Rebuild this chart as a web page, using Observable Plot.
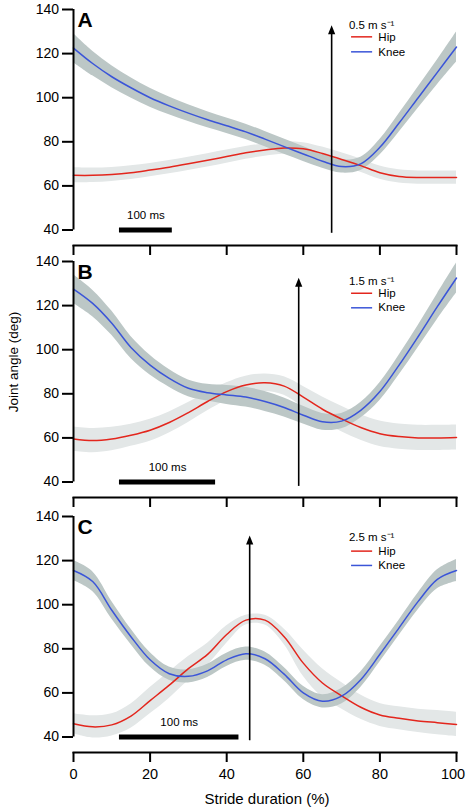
<!DOCTYPE html>
<html><head><meta charset="utf-8">
<script src="https://cdn.jsdelivr.net/npm/d3@7"></script>
<script src="https://cdn.jsdelivr.net/npm/@observablehq/plot@0.6"></script>
<style>
body{margin:0;background:#fff;}
#fig{position:relative;width:466px;height:812px;font-family:"Liberation Sans",Arial,Helvetica,sans-serif;color:#000;overflow:hidden;}
.panel{position:absolute;left:0;}
.ylab{position:absolute;left:13px;top:362px;transform:translate(-50%,-50%) rotate(-90deg);font-size:13.5px;white-space:nowrap;}
.xlab{position:absolute;left:267px;top:798px;transform:translate(-50%,-50%);font-size:15px;white-space:nowrap;}
</style></head><body><div id="fig"></div>
<script>
// stride duration (%) grid
const stride = [0,5,10,15,20,25,30,35,40,45,50,55,60,65,70,75,80,85,90,95,100];
const xTicks = [0,20,40,60,80,100];
const yTicks = [40,60,80,100,120,140];
const panelLabels = ["A","B","C"];
const speeds = ["0.5 m s\u207B\u00B9","1.5 m s\u207B\u00B9","2.5 m s\u207B\u00B9"];
const seriesNames = ["Hip","Knee"];

// Panel A, 0.5 m/s
const hipA    = [64.8,64.8,65.2,66.0,67.2,68.5,70.0,71.6,73.3,75.0,76.3,77.2,76.8,74.7,72.0,69.2,66.0,64.3,63.8,63.8,63.8];
const hipSdA  = [3.4,3.3,3.2,3.1,3.0,3.0,3.0,3.0,3.0,2.9,2.8,2.8,2.8,2.9,3.0,3.0,3.0,3.0,3.0,3.0,3.0];
const kneeA   = [122.5,115.5,109.5,104.5,100.0,96.3,93.0,90.0,87.3,84.5,81.2,77.8,74.5,71.2,68.8,70.0,77.5,88.5,100.0,111.5,123.0];
const kneeSdA = [6.6,5.6,5.0,4.6,4.3,4.0,3.8,3.6,3.5,3.5,3.5,3.5,3.4,3.2,3.0,3.0,3.5,4.2,4.8,5.6,6.8];

// Panel B, 1.5 m/s
const hipB    = [59.5,58.8,59.5,61.2,63.5,67.0,71.5,76.5,81.0,84.0,85.0,83.5,78.5,73.0,68.6,64.7,61.9,60.6,60.0,60.0,60.2];
const hipSdB  = [5.5,5.5,5.3,5.0,5.0,4.8,4.5,4.2,4.0,4.0,4.0,4.2,4.8,5.5,5.8,5.8,5.8,5.7,5.7,5.7,5.7];
const kneeB   = [127.5,121.0,112.0,101.0,93.0,87.0,82.5,80.5,79.5,78.5,76.5,73.8,70.3,67.3,67.6,72.5,81.0,93.0,106.0,119.5,132.5];
const kneeSdB = [6.5,6.0,5.5,5.0,4.5,4.0,3.8,3.8,4.3,4.5,4.5,4.3,4.0,3.8,3.5,3.5,4.0,4.5,5.0,5.8,6.8];

// Panel C, 2.5 m/s
const hipC    = [46.0,44.6,45.5,49.5,56.5,63.5,71.0,77.5,86.5,93.0,93.0,85.5,73.5,64.5,58.7,53.5,50.0,48.5,47.3,46.5,45.7];
const hipSdC  = [4.5,5.0,5.0,5.5,6.0,6.0,5.5,5.0,4.0,2.2,2.2,3.5,6.0,6.5,6.0,5.5,5.2,5.2,5.3,5.5,5.5];
const kneeC   = [115.5,110.5,97.5,85.5,75.0,68.7,67.5,70.0,75.0,77.8,75.5,68.5,60.0,56.2,58.5,66.0,77.5,89.5,101.5,111.5,115.5];
const kneeSdC = [4.5,4.5,4.0,3.5,3.3,3.0,3.0,3.0,3.0,3.0,3.0,3.0,3.0,3.0,3.5,3.5,3.5,3.5,3.8,4.3,5.0];

// events (arrows) and 100 ms scale bars, in stride %
const arrowX      = [67.4, 58.8, 46.0];
const arrowTop    = [132.9, 132.6, 131.4];
const arrowBottom = [38.5, 38.0, 38.3];
const barStart    = [12, 12, 12];
const barEnd      = [25.8, 37.1, 43.2];
const barLabel    = "100 ms";

const hipColor = "#e3261d", kneeColor = "#3b55d8";
const hipBand = "#e3e7e7", kneeBand = "#bcc7c6";

const hips = [hipA, hipB, hipC], hipSds = [hipSdA, hipSdB, hipSdC];
const knees = [kneeA, kneeB, kneeC], kneeSds = [kneeSdA, kneeSdB, kneeSdC];

// layout
const tops = [-1, 251, 506];
const legendYs = [[132.9,127.6,120.8],[131.1,125.6,119.0],[130.6,124.3,117.8]];
const W = 466, ML = 73, MR = 10, MT = 10, YR = 220.5, INS = 15.5;

const arrowHead = {draw(ctx){ ctx.moveTo(0,0); ctx.lineTo(3.6,9); ctx.lineTo(-3.6,9); ctx.closePath(); }};

const fig = document.getElementById("fig");

for (let i = 0; i < 3; i++) {
  const rows = stride.map((x, j) => ({x, hip: hips[i][j], hipSd: hipSds[i][j], knee: knees[i][j], kneeSd: kneeSds[i][j]}));
  const last = i === 2;
  const MB = last ? 40 : 12;
  const H = MT + YR + INS + MB;
  const lg = legendYs[i];
  const tickLabels = last ? [
    Plot.text(xTicks.filter(d => d < 100), {x: d => d, frameAnchor: "bottom", text: d => String(d), lineAnchor: "top", dy: 16, fontSize: 14.5, fill: "#000"}),
    Plot.text(xTicks.filter(d => d === 100), {x: d => d, frameAnchor: "bottom", text: d => String(d), lineAnchor: "top", dy: 16, dx: -3.5, fontSize: 14.5, fill: "#000"})
  ] : [];
  const chart = Plot.plot({
    width: W, height: H,
    marginLeft: ML, marginRight: MR, marginTop: MT, marginBottom: MB,
    style: {background: "transparent", overflow: "visible", fontFamily: "'Liberation Sans', Arial, Helvetica, sans-serif", color: "#000"},
    x: {domain: [0, 100], label: null},
    y: {domain: [40, 140], label: null, insetBottom: INS},
    marks: [
      Plot.areaY(rows, {x: "x", y1: d => d.hip - d.hipSd, y2: d => d.hip + d.hipSd, fill: hipBand, curve: "catmull-rom"}),
      Plot.areaY(rows, {x: "x", y1: d => d.knee - d.kneeSd, y2: d => d.knee + d.kneeSd, fill: kneeBand, curve: "catmull-rom"}),
      Plot.lineY(rows, {x: "x", y: "hip", stroke: hipColor, strokeWidth: 1.5, curve: "catmull-rom"}),
      Plot.lineY(rows, {x: "x", y: "knee", stroke: kneeColor, strokeWidth: 1.5, curve: "catmull-rom"}),
      // event arrow
      Plot.ruleX([arrowX[i]], {x: d => d, y1: arrowBottom[i], y2: arrowTop[i] - 3, stroke: "#000", strokeWidth: 1.6}),
      Plot.dot([arrowX[i]], {x: d => d, y: arrowTop[i], symbol: arrowHead, fill: "#000", stroke: "none", r: 5}),
      // 100 ms scale bar
      Plot.ruleY([40], {x1: barStart[i], x2: barEnd[i], stroke: "#000", strokeWidth: 5}),
      Plot.text([barLabel], {x: (barStart[i] + barEnd[i]) / 2, y: 46.7, text: d => d, fontSize: 11.5, fill: "#000"}),
      // legend
      Plot.text([speeds[i]], {x: 71.9, y: lg[0], text: d => d, textAnchor: "start", fontSize: 11.5, fill: "#000"}),
      Plot.ruleY([lg[1]], {x1: 72.6, x2: 78.1, stroke: hipColor, strokeWidth: 1.5}),
      Plot.ruleY([lg[2]], {x1: 72.6, x2: 78.1, stroke: kneeColor, strokeWidth: 1.5}),
      Plot.text([seriesNames[0]], {x: 79.6, y: lg[1], text: d => d, textAnchor: "start", fontSize: 11.5, fill: "#000"}),
      Plot.text([seriesNames[1]], {x: 79.6, y: lg[2], text: d => d, textAnchor: "start", fontSize: 11.5, fill: "#000"}),
      // panel letter
      Plot.text([panelLabels[i]], {frameAnchor: "top-left", text: d => d, textAnchor: "start", lineAnchor: "top", dx: 4, dy: 2.5, fontSize: 21, fontWeight: "bold", fill: "#000"}),
      // axes
      Plot.ruleX([0], {y1: 40, y2: 140, stroke: "#000", strokeWidth: 2}),
      Plot.frame({anchor: "bottom", stroke: "#000", strokeWidth: 2}),
      Plot.axisY({ticks: yTicks, tickSize: 11, tickPadding: 3.5, fontSize: 14, strokeWidth: 2, label: null, tickFormat: d => String(d)}),
      Plot.axisX({ticks: xTicks, tickSize: 10, strokeWidth: 2, label: null, tickFormat: () => ""}),
      ...tickLabels
    ]
  });
  chart.classList.add("panel");
  chart.style.top = tops[i] + "px";
  fig.appendChild(chart);
}

const yl = document.createElement("div");
yl.className = "ylab"; yl.textContent = "Joint angle (deg)";
fig.appendChild(yl);
const xl = document.createElement("div");
xl.className = "xlab"; xl.textContent = "Stride duration (%)";
fig.appendChild(xl);
</script>
</body></html>
